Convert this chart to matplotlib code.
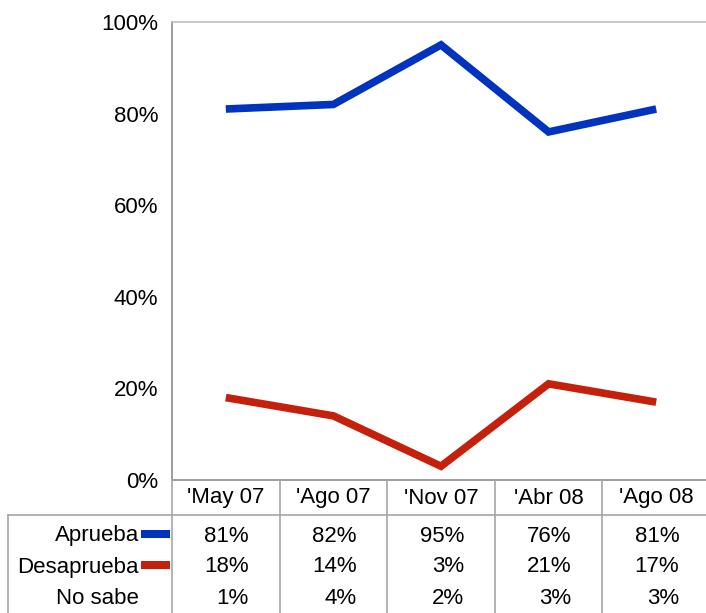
import matplotlib.pyplot as plt
import matplotlib.transforms as mtrans
from matplotlib.lines import Line2D

plt.rcParams['font.family'] = ['Liberation Sans', 'DejaVu Sans']

# datos
periodos = ["'May 07", "'Ago 07", "'Nov 07", "'Abr 08", "'Ago 08"]
aprueba = [81, 82, 95, 76, 81]
desaprueba = [18, 14, 3, 21, 17]
no_sabe = [1, 4, 2, 3, 3]

azul = '#0033BE'
rojo = '#C4200C'
gris = '#A6A6A6'

W, H = 706, 613
fig = plt.figure(figsize=(W / 100, H / 100), dpi=100)

def fy(py):
    return 1 - py / H

# ejes: izquierda 172px, derecha 710px (se corta), arriba 22px, abajo 480px
ax = fig.add_axes([172 / W, fy(480), 538 / W, (480 - 22) / H])
x = list(range(len(periodos)))
ax.plot(x, aprueba, color=azul, lw=5.5, solid_capstyle='butt', solid_joinstyle='miter')
ax.plot(x, desaprueba, color=rojo, lw=5.5, solid_capstyle='butt', solid_joinstyle='miter')
ax.set_xlim(-0.5, len(periodos) - 0.5)
ax.set_ylim(0, 100)
ax.set_yticks([0, 20, 40, 60, 80, 100])
ax.set_yticklabels([f'{v}%' for v in [0, 20, 40, 60, 80, 100]])
ax.set_xticks([])
ax.tick_params(axis='y', length=0, pad=10, labelsize=16)
for s in ['left', 'bottom']:
    ax.spines[s].set_color('#8C8C8C')
ax.spines['top'].set_color('#BEBEBE')
ax.spines['right'].set_visible(False)
for s in ax.spines.values():
    s.set_linewidth(1.2)

# tabla de datos
bt = mtrans.blended_transform_factory(ax.transData, fig.transFigure)

def linea(x0, x1, y0, y1, transform):
    fig.add_artist(Line2D([x0, x1], [y0, y1], transform=transform, color=gris, lw=1.2))

linea(8 / W, 1, fy(515), fy(515), fig.transFigure)
linea(8 / W, 8 / W, fy(515), 0, fig.transFigure)
for i in range(len(periodos) + 1):
    linea(i - 0.5, i - 0.5, fy(480), 0, bt)

fs = 16
for i, p in enumerate(periodos):
    fig.text(i, fy(498), p, transform=bt, ha='center', va='center', fontsize=fs)

filas = [('Aprueba', aprueba, azul), ('Desaprueba', desaprueba, rojo), ('No sabe', no_sabe, None)]
ys = [536, 567, 599]
for (nombre, vals, col), yy in zip(filas, ys):
    fig.text(139 / W, fy(yy), nombre, ha='right', va='center', fontsize=fs)
    if col is not None:
        fig.add_artist(plt.Rectangle((141 / W, fy(yy + 2)), 29 / W, 8 / H,
                                     transform=fig.transFigure, color=col, lw=0))
    for i, v in enumerate(vals):
        fig.text(i + 0.215, fy(yy), f'{v}%', transform=bt, ha='right', va='center', fontsize=fs)

fig.savefig('out.png', dpi=100)
